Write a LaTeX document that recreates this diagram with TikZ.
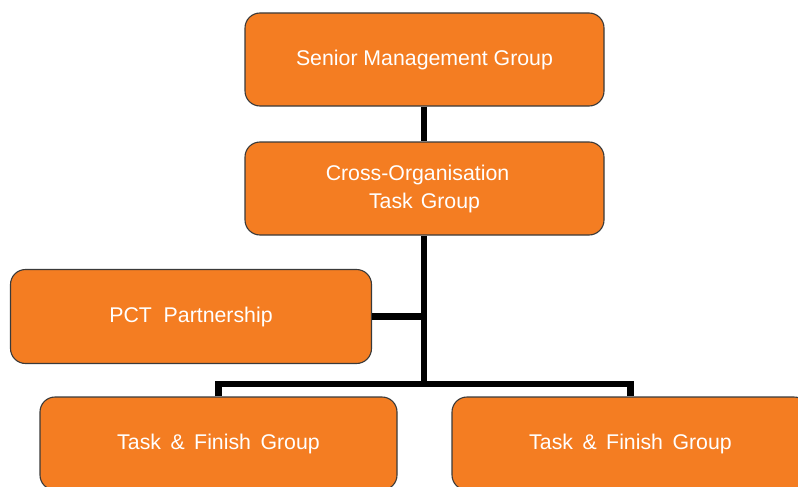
\documentclass[tikz,border=0pt]{standalone}
\usepackage{fontspec}
\setmainfont{Liberation Sans}
\definecolor{boxorange}{HTML}{F47D22}
\definecolor{boxedge}{HTML}{3A3A3A}
\begin{document}
\begin{tikzpicture}[x=1pt,y=-1pt,
  orgbox/.style={draw=boxedge, line width=1.1pt, fill=boxorange, rounded corners=15pt,
    minimum width=359pt, minimum height=93pt, inner sep=0pt, text=white,
    font=\fontsize{21.3}{28}\selectfont, align=center},
  link/.style={line width=6.5pt, black}]
  \useasboundingbox (0,0) rectangle (798,487);
  \clip (0,0) rectangle (798,487);
  % boxes
  \node[orgbox] (smg) at (424.5,59.5) {\raisebox{-1.5pt}{Senior Management Group}};
  \node[orgbox] (cotg) at (424.5,188.5) {\raisebox{-3pt}{Cross-Organisation\hspace{14pt}}\\\raisebox{-3pt}{Task\hspace{8pt}Group}};
  \node[orgbox, minimum width=361pt, minimum height=94pt] (pct) at (191,316.5) {PCT\ \ Partnership};
  \node[orgbox, minimum width=357pt] (tfl) at (218.5,443.5) {Task\hspace{9.5pt}\&\hspace{9.5pt}Finish\hspace{9.5pt}Group};
  \node[orgbox, minimum width=357pt] (tfr) at (630.5,443.5) {Task\hspace{9.5pt}\&\hspace{9.5pt}Finish\hspace{9.5pt}Group};
  % connectors
  \coordinate (busmid) at (424,384);
  \draw[link] (smg.south -| busmid) -- (cotg.north -| busmid);
  \draw[link] (cotg.south -| busmid) -- (busmid);
  \draw[link] (pct.east) -- (pct.east -| busmid);
  \draw[link] (tfl.north) -- (tfl.north |- busmid) -- (tfr.north |- busmid) -- (tfr.north);
\end{tikzpicture}
\end{document}
